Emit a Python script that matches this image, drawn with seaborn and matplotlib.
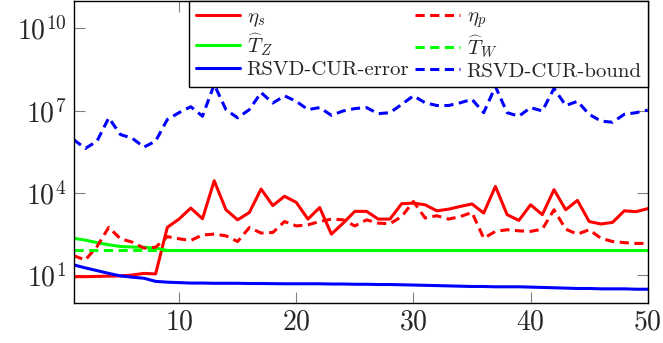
import matplotlib
matplotlib.use("Agg")
import matplotlib.pyplot as plt
import seaborn as sns
import numpy as np
import pandas as pd

x = list(range(1, 51))

eta_s = [8.9, 8.9, 9.1, 9.3, 9.5, 10.2, 11.7, 11.2, 560, 1120,
         2820, 1150, 28000, 2450, 1050, 1950, 14000, 3470, 7600, 4570,
         1120, 2950, 316, 794, 2140, 2140, 1120, 1120, 4070, 4270,
         3720, 2240, 2570, 3240, 3980, 1860, 17400, 1620, 1000, 3720,
         1620, 13200, 2450, 5370, 912, 741, 851, 2240, 2090, 2690]

eta_p = [52, 36, 112, 560, 214, 162, 98, 105, 257, 214,
         186, 295, 316, 275, 170, 550, 347, 363, 912, 631,
         692, 912, 1120, 1050, 631, 1050, 794, 759, 1380, 4900,
         1230, 1480, 1120, 1380, 1950, 224, 398, 457, 417, 398,
         479, 2450, 479, 316, 457, 224, 170, 155, 145, 145]

T_Z = [224, 191, 155, 129, 112, 107, 105, 98, 80, 80,
       80, 80, 80, 80, 80, 80, 80, 80, 80, 80,
       80, 80, 80, 80, 80, 80, 80, 80, 80, 80,
       80, 80, 80, 80, 80, 80, 80, 80, 80, 80,
       80, 80, 80, 80, 80, 80, 80, 80, 80, 80]

T_W = [82] * 50

rsvd_err = [24, 18.6, 14.8, 11.7, 9.5, 8.5, 7.8, 6.0, 5.6, 5.4,
            5.2, 5.2, 5.1, 5.1, 5.1, 5.0, 5.0, 4.95, 4.9, 4.9,
            4.9, 4.9, 4.8, 4.8, 4.7, 4.7, 4.6, 4.6, 4.5, 4.4,
            4.3, 4.2, 4.1, 4.0, 3.9, 3.9, 3.8, 3.8, 3.8, 3.7,
            3.6, 3.5, 3.4, 3.3, 3.3, 3.2, 3.2, 3.2, 3.1, 3.1]

rsvd_bound = [8.9e5, 4.2e5, 7.8e5, 5.5e6, 1.35e6, 1.0e6, 4.7e5, 7.8e5, 4.8e6, 8.5e6,
              1.4e7, 6.3e6, 9.1e7, 1.1e7, 5.5e6, 1.1e7, 4.6e7, 1.9e7, 3.5e7, 2.2e7,
              1.1e7, 1.3e7, 6.8e6, 9.8e6, 1.2e7, 1.3e7, 7.8e6, 8.5e6, 1.7e7, 3.5e7,
              1.95e7, 1.55e7, 1.55e7, 1.95e7, 2.6e7, 8.5e6, 7.6e7, 8.5e6, 6.3e6, 1.3e7,
              9.8e6, 6.5e7, 1.55e7, 2.2e7, 7.4e6, 4.2e6, 3.8e6, 7.4e6, 8.5e6, 1.05e7]

labels = [r"$\eta_s$", r"$\eta_p$", r"$\widehat{T}_Z$", r"$\widehat{T}_W$",
          "RSVD-CUR-error", "RSVD-CUR-bound"]
xticks = [10, 20, 30, 40, 50]
yticks = [1e1, 1e4, 1e7, 1e10]
ytick_labels = [r"$10^{1}$", r"$10^{4}$", r"$10^{7}$", r"$10^{10}$"]

sns.set_theme(style="white")
plt.rcParams["mathtext.fontset"] = "cm"
plt.rcParams["font.family"] = ["cmr10", "DejaVu Serif"]
plt.rcParams["axes.unicode_minus"] = False

fig = plt.figure(figsize=(6.63, 3.43), dpi=100)
ax = fig.add_axes([0.111, 0.1175, 0.866, 0.8795])

dash = (0, (3.0, 1.8))
series = [
    (eta_s, labels[0], "#ff0000", "-"),
    (T_Z, labels[2], "#00ff00", "-"),
    (rsvd_err, labels[4], "#0000ff", "-"),
    (eta_p, labels[1], "#ff0000", dash),
    (T_W, labels[3], "#00ff00", dash),
    (rsvd_bound, labels[5], "#0000ff", dash),
]
for vals, lab, col, ls in series:
    sns.lineplot(x=x, y=vals, ax=ax, color=col, linestyle=ls, linewidth=2.2,
                 label=lab, legend=False)

ax.set_yscale("log")
ax.set_xlim(1, 50)
ax.set_ylim(1, 1e11)
ax.set_xticks(xticks)
ax.set_xticklabels([rf"${t}$" for t in xticks])
ax.set_yticks(yticks)
ax.set_yticklabels(ytick_labels)
ax.yaxis.set_minor_locator(matplotlib.ticker.NullLocator())
ax.tick_params(axis="both", which="major", direction="in", length=8, width=0.8,
               color="#808080", labelsize=20, top=True, right=True,
               left=True, bottom=True, pad=5)
for s in ax.spines.values():
    s.set_color("black")
    s.set_linewidth(1.0)

handles, labs = ax.get_legend_handles_labels()
leg = ax.legend(handles, labs, ncol=2, loc="upper right", bbox_to_anchor=(1.0, 1.0),
                borderaxespad=0.0, fontsize=15, frameon=True, fancybox=False,
                handlelength=2.15, handletextpad=0.3, columnspacing=0.3,
                labelspacing=0.12, borderpad=0.3)
leg.get_frame().set_edgecolor("black")
leg.get_frame().set_linewidth(1.0)
leg.get_frame().set_alpha(1.0)

fig.savefig("out.png", dpi=100)
